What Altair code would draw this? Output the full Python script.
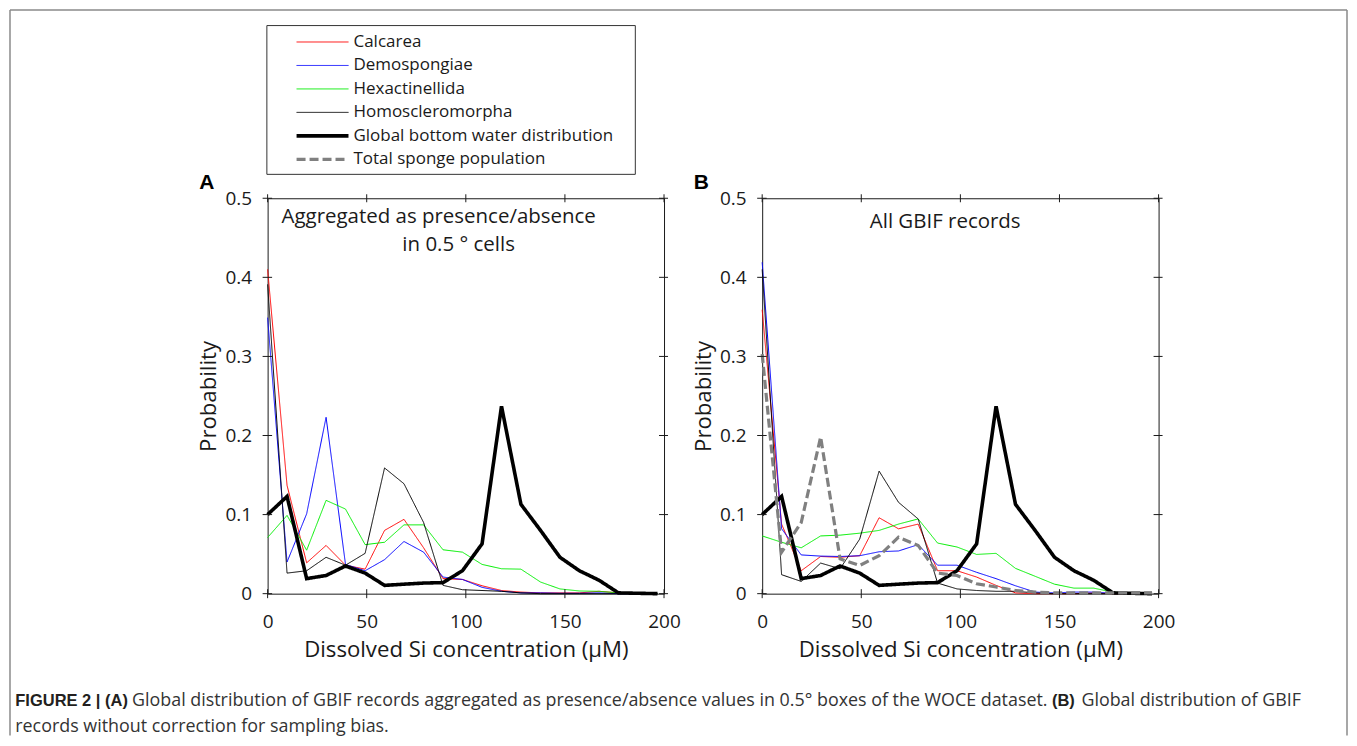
import altair as alt
import pandas as pd

# ---------------- data ----------------
si_bins = [0, 9.8, 19.7, 29.5, 39.3, 49.2, 59.0, 68.8, 78.7, 88.5, 98.3,
           108.2, 118.0, 127.8, 137.7, 147.5, 157.3, 167.2, 177.0, 186.8, 196.7]

names = ["Calcarea", "Demospongiae", "Hexactinellida", "Homoscleromorpha",
         "Global bottom water distribution", "Total sponge population"]
colors = ["#ff0000", "#0000ff", "#00ee00", "#000000", "#000000", "#808080"]
widths = [1, 1, 1, 1, 3.6, 3.2]
dashes = [[1, 0], [1, 0], [1, 0], [1, 0], [1, 0], [9, 4]]

# Panel A: aggregated as presence/absence in 0.5 degree cells
calcarea_a = [0.41, 0.137, 0.039, 0.061, 0.036, 0.031, 0.080, 0.094, 0.058, 0.019, 0.018,
              0.010, 0.004, 0.002, 0.001, 0.001, 0.001, 0.003, 0.001, 0.0, 0.0]
demosp_a = [0.349, 0.040, 0.101, 0.223, 0.037, 0.029, 0.043, 0.066, 0.0525, 0.021, 0.018,
            0.008, 0.003, 0.001, 0.001, 0.0005, 0.0005, 0.001, 0.0, 0.0, 0.0]
hexact_a = [0.071, 0.099, 0.055, 0.118, 0.107, 0.062, 0.065, 0.087, 0.087, 0.0555, 0.0525,
            0.037, 0.0315, 0.031, 0.0147, 0.006, 0.0034, 0.003, 0.001, 0.0, 0.0]
homosc_a = [0.391, 0.026, 0.029, 0.046, 0.036, 0.051, 0.159, 0.139, 0.090, 0.0105, 0.005,
            0.004, 0.003, 0.001, 0.0, 0.0, 0.0, 0.0, 0.0, 0.0, 0.0]
global_bw = [0.100, 0.123, 0.019, 0.023, 0.035, 0.026, 0.0105, 0.012, 0.0134, 0.014, 0.029,
             0.063, 0.237, 0.113, 0.080, 0.046, 0.029, 0.017, 0.001, 0.0005, 0.0]

# Panel B: all GBIF records
calcarea_b = [0.359, 0.088, 0.029, 0.047, 0.046, 0.048, 0.096, 0.082, 0.088, 0.029, 0.029,
              0.021, 0.0105, 0.001, 0.0, 0.0, 0.0, 0.001, 0.0, 0.0, 0.0]
demosp_b = [0.419, 0.082, 0.049, 0.0475, 0.047, 0.048, 0.053, 0.054, 0.062, 0.036, 0.036,
            0.027, 0.019, 0.010, 0.002, 0.001, 0.002, 0.002, 0.0005, 0.0, 0.0]
hexact_b = [0.073, 0.065, 0.058, 0.073, 0.074, 0.0765, 0.080, 0.088, 0.0945, 0.064, 0.059,
            0.0496, 0.051, 0.032, 0.022, 0.012, 0.007, 0.007, 0.002, 0.0, 0.0]
homosc_b = [0.41, 0.024, 0.0155, 0.0387, 0.0315, 0.069, 0.155, 0.1155, 0.0945, 0.0134, 0.006,
            0.004, 0.003, 0.003, 0.001, 0.0, 0.0, 0.0, 0.0, 0.0, 0.0]
total_b = [0.303, 0.0525, 0.090, 0.198, 0.044, 0.0357, 0.048, 0.0714, 0.061, 0.026, 0.023,
           0.0126, 0.0084, 0.004, 0.002, 0.001, 0.001, 0.001, 0.001, 0.001, 0.001]

x_ticks = [0, 50, 100, 150, 200]
y_ticks = [0, 0.1, 0.2, 0.3, 0.4, 0.5]

# ---------------- styling ----------------
W, H = 397, 396
FONT = "Open Sans"
CAP_FONT = "Liberation Sans"
INK = "#1a1a1a"
CAP_INK = "#333333"


def long_table(pairs):
    rows = []
    for name, vals in pairs:
        for s, p in zip(si_bins, vals):
            rows.append({"series": name, "si": s, "prob": p})
    return pd.DataFrame(rows)


df_a = long_table([(names[0], calcarea_a), (names[1], demosp_a), (names[2], hexact_a),
                   (names[3], homosc_a), (names[4], global_bw)])
df_b = long_table([(names[0], calcarea_b), (names[1], demosp_b), (names[2], hexact_b),
                   (names[3], homosc_b), (names[4], global_bw), (names[5], total_b)])

one = pd.DataFrame({"k": [0]})
tick_x_df = pd.DataFrame({"si": x_ticks})
tick_y_df = pd.DataFrame({"prob": y_ticks})

legend = alt.Legend(title=None, orient="none", legendX=-1, legendY=-171.5,
                    symbolType="stroke", symbolSize=2704, symbolOffset=22,
                    labelOffset=3, padding=6, clipHeight=18, rowPadding=5.5,
                    labelFont=FONT, labelFontSize=17, labelColor=INK, labelLimit=0)

x_scale = alt.Scale(domain=[0, 200], nice=False, zero=False)
y_scale = alt.Scale(domain=[0, 0.5], nice=False, zero=False)

x_axis = alt.Axis(values=x_ticks, title="Dissolved Si concentration (µM)", labelFlush=False,
                  labelPadding=19, titleX=W / 2, titleY=62.5, titleBaseline="alphabetic",
                  titleAlign="center")
y_axis = alt.Axis(values=y_ticks, format=".1~f", title="Probability", labelFlush=False,
                  labelPadding=16, titleX=-52, titleY=H / 2, titleAngle=270,
                  titleBaseline="alphabetic", titleAlign="center")

X_ENC = alt.X("si:Q", scale=x_scale, axis=x_axis)
Y_ENC = alt.Y("prob:Q", scale=y_scale, axis=y_axis)


def lines(df):
    return alt.Chart(df).mark_line(strokeJoin="miter").encode(
        x=X_ENC,
        y=Y_ENC,
        color=alt.Color("series:N", scale=alt.Scale(domain=names, range=colors), legend=legend),
        strokeWidth=alt.StrokeWidth("series:N",
                                    scale=alt.Scale(type="ordinal", domain=names, range=widths),
                                    legend=legend),
        strokeDash=alt.StrokeDash("series:N", scale=alt.Scale(domain=names, range=dashes),
                                  legend=legend),
    )


def ticks():
    bottom = alt.Chart(tick_x_df).mark_rule(color=INK, strokeWidth=1).encode(
        x=X_ENC, y=alt.value(H - 4.5), y2=alt.value(H + 4.5))
    top = alt.Chart(tick_x_df).mark_rule(color=INK, strokeWidth=1).encode(
        x=X_ENC, y=alt.value(-4), y2=alt.value(4))
    left = alt.Chart(tick_y_df).mark_rule(color=INK, strokeWidth=1).encode(
        y=Y_ENC, x=alt.value(-5), x2=alt.value(4.5))
    right = alt.Chart(tick_y_df).mark_rule(color=INK, strokeWidth=1).encode(
        y=Y_ENC, x=alt.value(W - 5), x2=alt.value(W + 4))
    return [bottom, top, left, right]


def label(text, x, y, size, font=FONT, weight="normal", align="center", color=INK):
    return alt.Chart(one).mark_text(text=text, font=font, fontSize=size, fontWeight=weight,
                                    align=align, baseline="alphabetic", color=color).encode(
        x=alt.value(x), y=alt.value(y))


def hrule(x1, x2, y, color, w):
    return alt.Chart(one).mark_rule(color=color, strokeWidth=w).encode(
        x=alt.value(x1), x2=alt.value(x2), y=alt.value(y))


def vrule(x, y1, y2, color, w):
    return alt.Chart(one).mark_rule(color=color, strokeWidth=w).encode(
        x=alt.value(x), y=alt.value(y1), y2=alt.value(y2))


FR = "#8a8a8a"
frame = [
    vrule(-258, -188.5, 538, FR, 1.5),
    hrule(-258, 1081, -188.5, FR, 1.5),
    vrule(1081, -188.5, 538, FR, 1.5),
]

legend_box = alt.Chart(one).mark_rect(fillOpacity=0, stroke="#333333", strokeWidth=1).encode(
    x=alt.value(-0.75), x2=alt.value(368.25), y=alt.value(-172.95), y2=alt.value(-23.95))

CAP_REG = "Open Sans"
caption = [
    label("FIGURE 2 | (A)", -252.7, 508.75, 16.5, font=CAP_FONT, weight="bold", align="left",
          color="#231f20"),
    label("Global distribution of GBIF records aggregated as presence/absence values in 0.5° "
          "boxes of the WOCE dataset.", -135.75, 508.75, 17.9, font=CAP_REG, align="left",
          color=CAP_INK),
    label("(B)", 785.5, 508.75, 16.5, font=CAP_FONT, weight="bold", align="left",
          color="#231f20"),
    label("Global distribution of GBIF", 815, 508.75, 17.9, font=CAP_REG, align="left",
          color=CAP_INK),
    label("records without correction for sampling bias.", -252.7, 534.5, 17.9, font=CAP_REG,
          align="left", color=CAP_INK),
]

panel_a = alt.layer(
    *frame, legend_box, lines(df_a), *ticks(),
    label("A", -61, -9, 21, font=CAP_FONT, weight="bold", color="#000000"),
    label("Aggregated as presence/absence", 171.3, 25, 20.5),
    label("in 0.5 ° cells", 191.3, 52.75, 20.5),
    *caption,
).properties(width=W, height=H)

panel_b = alt.layer(
    lines(df_b), *ticks(),
    label("B", -61, -9, 21, font=CAP_FONT, weight="bold", color="#000000"),
    label("All GBIF records", 183.3, 29.4, 20.5),
).properties(width=W, height=H)

chart = alt.hconcat(panel_a, panel_b, spacing=98.3, bounds="flush").resolve_scale(
    color="shared", strokeWidth="shared", strokeDash="shared"
).properties(padding=0).configure_view(
    stroke=INK, strokeWidth=1
).configure_axis(
    domain=False, ticks=False, tickSize=0, grid=False,
    labelFont=FONT, labelFontSize=19, labelColor=INK,
    titleFont=FONT, titleFontSize=22.2, titleFontWeight="normal", titleColor=INK,
)

chart.save("out.html", embed_options={"renderer": "svg", "actions": False})
